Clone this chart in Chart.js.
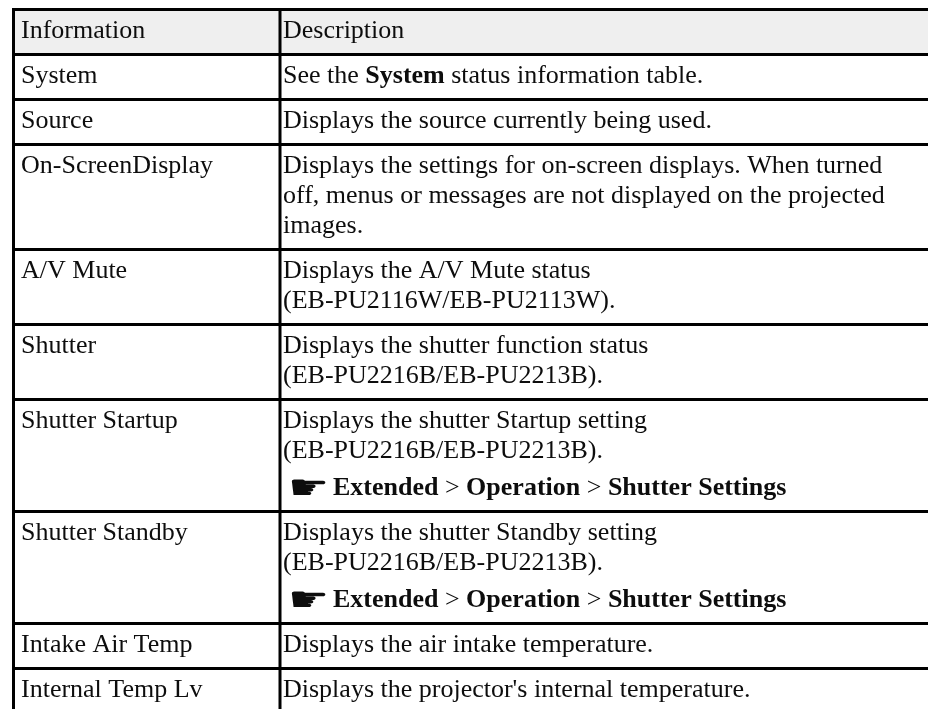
<!DOCTYPE html>
<html>
<head>
<meta charset="utf-8">
<script src="https://cdn.jsdelivr.net/npm/chart.js@4.4.1/dist/chart.umd.min.js"></script>
<style>
  html, body { margin:0; padding:0; background:#fff; overflow:hidden; }
  canvas { display:block; }
</style>
</head>
<body>
<canvas id="statusTable" width="928" height="709"></canvas>
<script>
/* ── Status information table, drawn on a Chart.js canvas ── */
const headers   = ["Information", "Description"];
const infoNames = ["System", "Source", "On-ScreenDisplay", "A/V Mute", "Shutter",
                   "Shutter Startup", "Shutter Standby", "Intake Air Temp", "Internal Temp Lv"];
const descriptions = [
  ["See the **System** status information table."],
  ["Displays the source currently being used."],
  ["Displays the settings for on-screen displays. When turned",
   "off, menus or messages are not displayed on the projected",
   "images."],
  ["Displays the A/V Mute status", "(EB-PU2116W/EB-PU2113W)."],
  ["Displays the shutter function status", "(EB-PU2216B/EB-PU2213B)."],
  ["Displays the shutter Startup setting", "(EB-PU2216B/EB-PU2213B)."],
  ["Displays the shutter Standby setting", "(EB-PU2216B/EB-PU2213B)."],
  ["Displays the air intake temperature."],
  ["Displays the projector's internal temperature."]
];
const menuPaths = [null, null, null, null, null,
  "**Extended** > **Operation** > **Shutter Settings**",
  "**Extended** > **Operation** > **Shutter Settings**",
  null, null];

// layout (canvas units, mapped through the chart scales)
const W = 928, H = 709;
const tableLeft = 13.5, colSplit = 280, tableRight = 945, tableTop = 9.5;
const firstBase = 28.5, lineGap = 30, handGap = 37, padBottom = 16.5;
const textPad1 = 21, textPad2 = 283;
const FONT = "'Liberation Serif', 'Times New Roman', serif";
const SIZE = 26;

// row edges, from line counts
const rowEdges = [tableTop];
const rowHeight = (lines, hasPath) =>
  firstBase + lineGap * (lines - 1) + (hasPath ? handGap : 0) + padBottom;
rowEdges.push(tableTop + rowHeight(1, false));
descriptions.forEach((d, i) => {
  rowEdges.push(rowEdges[rowEdges.length - 1] + rowHeight(d.length, !!menuPaths[i]));
});

function drawRich(ctx, str, x, y) {
  str.split("**").forEach((part, i) => {
    ctx.font = (i % 2 ? "bold " : "") + SIZE + "px " + FONT;
    ctx.fillText(part, x, y);
    x += ctx.measureText(part).width;
  });
  return x;
}

function drawHand(ctx, x, y) {
  // pointing-hand marker, stretched a bit wider like the manual's dingbat
  ctx.save();
  ctx.translate(x, y);
  ctx.scale(1.35, 1);
  ctx.font = "34px 'DejaVu Sans'";
  ctx.fillText("\u261B", 0, 0);
  ctx.restore();
}

const tablePlugin = {
  id: "tablePlugin",
  afterDraw(chart) {
    const ctx = chart.ctx;
    const X = v => chart.scales.x.getPixelForValue(v);
    const Y = v => chart.scales.y.getPixelForValue(v);
    ctx.save();

    // header band
    ctx.fillStyle = "#efefef";
    ctx.fillRect(X(tableLeft), Y(rowEdges[0]), X(tableRight) - X(tableLeft), Y(rowEdges[1]) - Y(rowEdges[0]));

    // text
    ctx.fillStyle = "#0d0d0d";
    ctx.textBaseline = "alphabetic";
    ctx.textAlign = "left";
    drawRich(ctx, headers[0], X(textPad1), Y(rowEdges[0] + firstBase));
    drawRich(ctx, headers[1], X(textPad2), Y(rowEdges[0] + firstBase));

    infoNames.forEach((name, i) => {
      const top = rowEdges[i + 1];
      drawRich(ctx, name, X(textPad1), Y(top + firstBase));
      descriptions[i].forEach((line, k) => {
        drawRich(ctx, line, X(textPad2), Y(top + firstBase + k * lineGap));
      });
      if (menuPaths[i]) {
        const by = top + firstBase + (descriptions[i].length - 1) * lineGap + handGap;
        drawHand(ctx, X(textPad2 + 5), Y(by + 4));
        drawRich(ctx, menuPaths[i], X(textPad2 + 50), Y(by));
      }
    });

    // rules
    ctx.strokeStyle = "#000";
    ctx.lineWidth = 3;
    ctx.beginPath();
    rowEdges.forEach(e => {
      ctx.moveTo(X(tableLeft - 1.5), Y(e));
      ctx.lineTo(X(tableRight), Y(e));
    });
    [tableLeft, colSplit, tableRight].forEach(c => {
      ctx.moveTo(X(c), Y(rowEdges[0] - 1.5));
      ctx.lineTo(X(c), Y(rowEdges[rowEdges.length - 1]));
    });
    ctx.stroke();
    ctx.restore();
  }
};

new Chart(document.getElementById("statusTable"), {
  type: "scatter",
  data: { datasets: [{ data: [] }] },
  options: {
    responsive: false,
    animation: false,
    layout: { padding: 0 },
    plugins: { legend: { display: false }, tooltip: { enabled: false } },
    scales: {
      x: { type: "linear", min: 0, max: W, display: false },
      y: { type: "linear", min: 0, max: H, reverse: true, display: false }
    }
  },
  plugins: [tablePlugin]
});
</script>
</body>
</html>
